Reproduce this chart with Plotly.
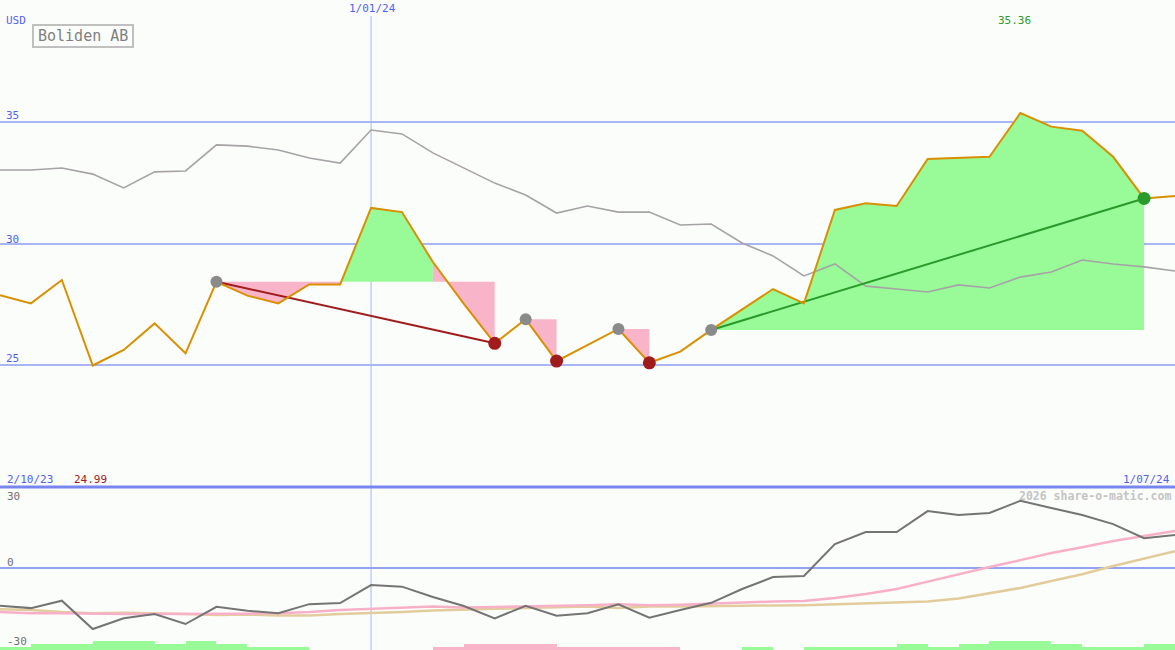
import pandas as pd
import plotly.graph_objects as go

# ---------------- data ----------------
dates = pd.date_range("2023-10-09", periods=39, freq="7D")

price = [27.88, 27.54, 28.50, 24.99, 25.63, 26.72, 25.49, 28.43, 27.86, 27.54,
         28.32, 28.32, 31.46, 31.29, 29.24, 27.52, 25.90, 26.89, 25.17, 25.83,
         26.49, 25.10, 25.56, 26.45, 27.30, 28.13, 27.54, 31.38, 31.65, 31.54,
         33.47, 33.50, 33.56, 35.36, 34.80, 34.63, 33.56, 31.85, 31.95]

index_line = [33.02, 33.02, 33.10, 32.85, 32.28, 32.94, 32.98, 34.05, 34.00, 33.84,
              33.51, 33.30, 34.66, 34.50, 33.72, 33.10, 32.48, 31.99, 31.25, 31.54,
              31.29, 31.29, 30.76, 30.80, 30.02, 29.49, 28.67, 29.16, 28.25, 28.13,
              28.01, 28.30, 28.17, 28.62, 28.83, 29.32, 29.16, 29.04, 28.87]

momentum = [-14.4, -15.3, -12.5, -23.2, -19.1, -17.5, -21.3, -14.8, -16.3, -17.2,
            -13.8, -13.4, -6.6, -7.2, -11.1, -14.5, -19.2, -14.4, -18.2, -17.2,
            -13.9, -18.9, -16.0, -13.3, -8.1, -3.6, -3.2, 8.9, 13.4, 13.4,
            21.3, 19.8, 20.6, 25.2, 22.5, 19.8, 16.4, 11.1, 12.3]

ma_fast = [-16.8, -17.2, -17.2, -17.4, -17.5, -17.5, -17.5, -17.5, -17.4, -17.2,
           -16.8, -16.0, -15.5, -15.1, -14.7, -15.1, -14.9, -14.5, -14.3, -14.2,
           -13.8, -14.2, -14.0, -13.6, -13.0, -12.8, -12.6, -11.5, -10.0, -8.1,
           -5.3, -2.5, 0.2, 2.8, 5.5, 7.7, 10.0, 11.9, 13.8]

ma_slow = [-15.7, -16.0, -16.8, -17.2, -17.0, -17.2, -17.5, -17.9, -17.7, -18.1,
           -18.1, -17.5, -17.2, -16.8, -16.2, -15.8, -15.5, -15.3, -14.9, -14.7,
           -15.3, -14.7, -14.7, -14.5, -14.5, -14.3, -14.2, -13.8, -13.4, -13.0,
           -12.8, -11.7, -9.6, -7.7, -5.1, -2.5, 0.6, 3.4, 6.2]

# weekly signal bars (one per interval between points)
signal = [1, 2, 2, 3, 3, 2, 3, 2, 1, 1,
          0, 0, 0, 0, -1, -2, -2, -2, -1, -1,
          -1, -1, 0, 0, 1, 0, 1, 1, 1, 2,
          1, 2, 3, 3, 2, 1, 1, 2]

# swing segments (start index, end index)
swings = [(7, 16), (17, 18), (20, 21), (23, 37)]

main_ticks = [25, 30, 35]
title = "Boliden AB"
start_label, end_label, mid_label = "2/10/23", "1/07/24", "1/01/24"
mid_index = 12

# ---------------- styling ----------------
W, H = 1175, 650
BG = "#fbfdfb"
GREEN_FILL = "#98fb98"
PINK_FILL = "#f8b4c8"
PRICE_C = "#d89000"
GRID_C = "#a8b6f4"
BLUE_TXT = "#5262f0"
RED_C = "#a01c1c"
GREEN_C = "#2a9a2a"
DOT_GRAY = "#8a8a8a"
FONT = "DejaVu Sans Mono"

lower_px = 163
split = lower_px / H


def px(x):
    return x / W


def py(y):
    return 1 - y / H


fig = go.Figure()

# --- fills between swing start level and price ---
for a, b in swings:
    L = price[a]
    groups = []
    cur = None
    for i in range(a, b):
        up = price[i + 1] >= L
        if cur is not None and cur[0] == up:
            cur[2] = i + 1
        else:
            cur = [up, i, i + 1]
            groups.append(cur)
    for up, s, e in groups:
        xs = [dates[s]] + list(dates[s:e + 1]) + [dates[e], dates[s]]
        ys = [L] + price[s:e + 1] + [L, L]
        fig.add_trace(go.Scatter(x=xs, y=ys, mode="lines", line=dict(width=0),
                                 fill="toself", fillcolor=GREEN_FILL if up else PINK_FILL,
                                 hoverinfo="skip", xaxis="x", yaxis="y"))

# --- comparison index line ---
fig.add_trace(go.Scatter(x=dates, y=index_line, mode="lines",
                         line=dict(color="#a6a2a6", width=1.6), xaxis="x", yaxis="y"))

# --- trend lines for longer swings ---
for a, b in swings:
    if b - a > 1:
        col = GREEN_C if price[b] > price[a] else RED_C
        fig.add_trace(go.Scatter(x=[dates[a], dates[b]], y=[price[a], price[b]], mode="lines",
                                 line=dict(color=col, width=2), xaxis="x", yaxis="y"))

# --- price line ---
fig.add_trace(go.Scatter(x=dates, y=price, mode="lines",
                         line=dict(color=PRICE_C, width=2), xaxis="x", yaxis="y"))

# --- swing dots ---
for a, b in swings:
    col = GREEN_C if price[b] > price[a] else RED_C
    fig.add_trace(go.Scatter(x=[dates[a]], y=[price[a]], mode="markers",
                             marker=dict(color=DOT_GRAY, size=12), xaxis="x", yaxis="y"))
    fig.add_trace(go.Scatter(x=[dates[b]], y=[price[b]], mode="markers",
                             marker=dict(color=col, size=13), xaxis="x", yaxis="y"))

# --- lower panel ---
fig.add_trace(go.Scatter(x=dates, y=ma_slow, mode="lines",
                         line=dict(color="#e2cc9c", width=2.5), xaxis="x2", yaxis="y2"))
fig.add_trace(go.Scatter(x=dates, y=ma_fast, mode="lines",
                         line=dict(color="#f8b0c8", width=2.5), xaxis="x2", yaxis="y2"))
fig.add_trace(go.Scatter(x=dates, y=momentum, mode="lines",
                         line=dict(color="#747474", width=2), xaxis="x2", yaxis="y2"))

week_ms = 7 * 24 * 3600 * 1000
bar_x = [dates[i] + pd.Timedelta(days=3.5) for i in range(len(signal))]
fig.add_trace(go.Bar(x=bar_x, y=[abs(v) for v in signal], width=[week_ms] * len(signal),
                     marker=dict(color=[GREEN_FILL if v > 0 else PINK_FILL for v in signal],
                                 line=dict(width=0)),
                     xaxis="x2", yaxis="y3"))

# ---------------- layout ----------------
shapes = [
    # Jan 1 vertical marker
    dict(type="line", xref="x", yref="paper", x0=dates[mid_index], x1=dates[mid_index],
         y0=0, y1=py(16), line=dict(color="#a8b6f8", width=1), layer="below"),
    # panel separator
    dict(type="line", xref="paper", yref="paper", x0=0, x1=1, y0=split, y1=split,
         line=dict(color="#7886f0", width=3), layer="above"),
    # title box
    dict(type="rect", xref="paper", yref="paper", x0=px(33), x1=px(133), y0=py(25), y1=py(47),
         line=dict(color="#c0c0c0", width=2), fillcolor="rgba(0,0,0,0)", layer="above"),
]

ann = []


def label(text, x, y, color, size=11, xanchor="left", bold=False):
    ann.append(dict(text=f"<b>{text}</b>" if bold else text, x=px(x), y=py(y),
                    xref="paper", yref="paper", showarrow=False,
                    xanchor=xanchor, yanchor="middle",
                    font=dict(family=FONT, size=size, color=color)))


label("USD", 4, 20, BLUE_TXT)
label(title, 83, 36, "#808080", size=15, xanchor="center")
for t, yy in zip(main_ticks, [358, 239, 116]):
    label(str(t), 4, yy, BLUE_TXT)
label(mid_label, 372, 9, BLUE_TXT, xanchor="center")
label(f"{max(price):.2f}", 1014, 21, GREEN_C, xanchor="center")
label(start_label, 5, 479, BLUE_TXT)
label(f"{min(price):.2f}", 72, 479, RED_C)
label(end_label, 1172, 479, BLUE_TXT, xanchor="right")
label("2026 share-o-matic.com", 1173, 496, "#c4c4c4", size=11.5, xanchor="right", bold=True)
label("30", 5, 496, "#707070")
label("0", 5, 562, "#707070")
label("-30", 5, 641, "#707070")

fig.update_layout(
    width=W, height=H,
    margin=dict(l=0, r=0, t=0, b=0),
    paper_bgcolor=BG, plot_bgcolor=BG,
    showlegend=False,
    bargap=0,
    shapes=shapes,
    annotations=ann,
    xaxis=dict(type="date", range=[dates[0], dates[-1]], domain=[0, 1], anchor="y",
               showgrid=False, showticklabels=False, zeroline=False, showline=False),
    xaxis2=dict(type="date", range=[dates[0], dates[-1]], domain=[0, 1], anchor="y2",
                matches="x", showgrid=False, showticklabels=False, zeroline=False),
    yaxis=dict(domain=[split, 1], range=[20, 40], tickvals=main_ticks,
               gridcolor=GRID_C, gridwidth=2, showticklabels=False, zeroline=False,
               showline=False),
    yaxis2=dict(domain=[0, split], range=[-31.1, 30.4], tickvals=[0],
                gridcolor="#94a2f2", gridwidth=2, showticklabels=False, zeroline=False),
    yaxis3=dict(overlaying="y2", range=[0, lower_px / 3], visible=False),
)

fig.write_html("out.html",
               config={"displayModeBar": False},
               post_script="document.body.style.margin='0';document.body.style.padding='0';"
                           "document.body.style.overflow='hidden';")
